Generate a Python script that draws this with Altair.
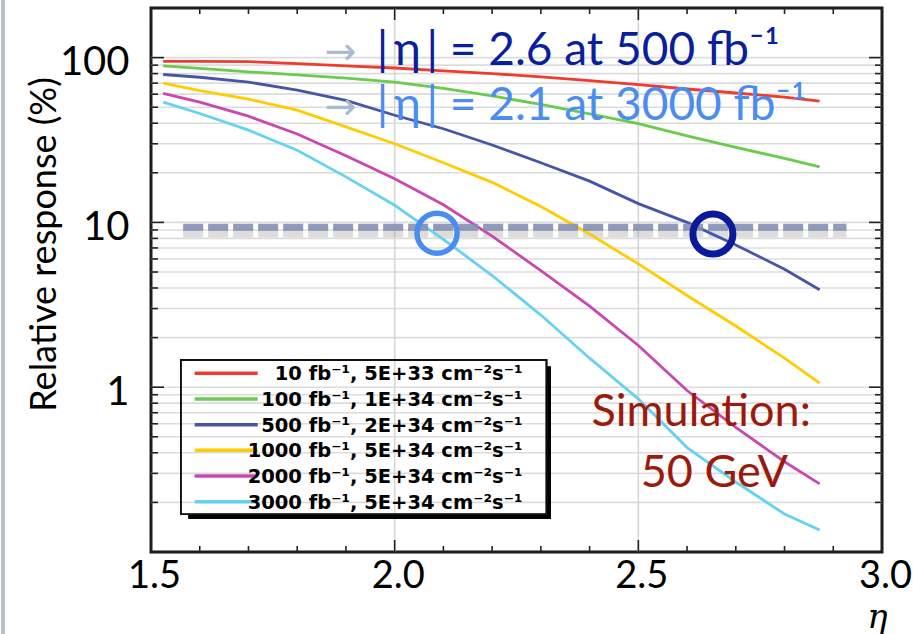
import altair as alt
import pandas as pd

# ---------------- data ----------------
eta = [1.525, 1.6, 1.7, 1.8, 1.9, 2.0, 2.1, 2.2, 2.3, 2.4, 2.5, 2.6, 2.7, 2.8, 2.872]
resp_10 = [95, 95, 94.5, 92, 89, 86.5, 83, 80, 76.5, 72.5, 68.5, 64.5, 61, 57.5, 54.5]
resp_100 = [89, 86, 82, 78.5, 75, 71, 65, 58.5, 52, 45.5, 39.7, 33.5, 28.5, 24.5, 21.7]
resp_500 = [79, 76, 71, 63.5, 55, 44.7, 37, 29.5, 23, 17.8, 13, 10, 7.3, 5.2, 3.9]
resp_1000 = [70, 63, 56, 48, 38, 30, 23, 17.5, 12.5, 8.5, 5.6, 3.6, 2.35, 1.5, 1.06]
resp_2000 = [60.7, 53.7, 44.1, 34.4, 25.4, 18.4, 12.8, 8.25, 5.1, 3.1, 1.79, 0.955, 0.57, 0.353, 0.259]
resp_3000 = [53.7, 45.8, 36.3, 27.4, 18.9, 12.7, 7.9, 4.76, 2.74, 1.5, 0.85, 0.43, 0.266, 0.17, 0.136]

series_labels = [
    "10 fb⁻¹, 5E+33 cm⁻²s⁻¹",
    "100 fb⁻¹, 1E+34 cm⁻²s⁻¹",
    "500 fb⁻¹, 2E+34 cm⁻²s⁻¹",
    "1000 fb⁻¹, 5E+34 cm⁻²s⁻¹",
    "2000 fb⁻¹, 5E+34 cm⁻²s⁻¹",
    "3000 fb⁻¹, 5E+34 cm⁻²s⁻¹",
]
series_colors = ["#f03c2e", "#6acb4e", "#4655a8", "#ffcc00", "#c948b0", "#66d2f2"]

x_major = [1.5, 2.0, 2.5, 3.0]
x_minor = [1.6, 1.7, 1.8, 1.9, 2.1, 2.2, 2.3, 2.4, 2.6, 2.7, 2.8, 2.9]
x_grid = [2.0, 2.5]
y_major = [1, 10, 100]
y_minor = [0.2, 0.3, 0.4, 0.5, 0.6, 0.7, 0.8, 0.9,
           2, 3, 4, 5, 6, 7, 8, 9,
           20, 30, 40, 50, 60, 70, 80, 90]
y_grid = y_minor + y_major

threshold_eta = [1.566, 2.927]
threshold_value = 9.36
circle_eta = [2.087, 2.653]
circle_value = [8.6, 8.5]

ann_lines = ["|\u2009η\u2009| = 2.6 at 500 fb⁻¹", "|\u2009η\u2009| = 2.1 at 3000 fb⁻¹"]
ann_eta = [1.963, 1.963]
ann_value = [89.8, 41.6]
arrow_eta = [1.856, 1.856]

sim_lines = ["Simulation:", "50 GeV"]
sim_eta = [2.404, 2.505]
sim_value = [0.585, 0.247]

# ---------------- tables ----------------
all_series = [resp_10, resp_100, resp_500, resp_1000, resp_2000, resp_3000]
rows = []
for lab, vals in zip(series_labels, all_series):
    for e, v in zip(eta, vals):
        rows.append({"eta": e, "resp": v, "series": lab})
df = pd.DataFrame(rows)

W, H = 731, 544
FONT = "Lato, DejaVu Sans"

xs = alt.Scale(domain=[1.5, 3.0], nice=False, zero=False)
ys = alt.Scale(type="log", domain=[0.1, 200], nice=False)
cs = alt.Scale(domain=series_labels, range=series_colors)

x_axis = alt.Axis(
    values=x_major, format=".1f", grid=False, ticks=False, domain=False,
    labelFont=FONT, labelFontSize=38, labelColor="black", labelPadding=5,
    labelFlush=False, labelOffset=3,
    title="η", titleFont="DejaVu Serif", titleFontStyle="italic",
    titleFontWeight="normal", titleFontSize=34, titleColor="black",
    titleX=W + 5, titleY=75, titleAlign="right", titleBaseline="alphabetic")


def X(field):
    return alt.X(field, scale=xs, axis=x_axis, title="η")


def Y(field):
    return alt.Y(field, scale=ys, axis=None)


# grid
hgrid = alt.Chart(pd.DataFrame({"resp": y_grid})).mark_rule(
    color="#dcdcdc", strokeWidth=1.6
).encode(y=Y("resp:Q"), x=alt.value(0), x2=alt.value(W))
vgrid = alt.Chart(pd.DataFrame({"eta": x_grid})).mark_rule(
    color="#d6d6d6", strokeWidth=1.6
).encode(x=X("eta:Q"), y=alt.value(0), y2=alt.value(H))

# threshold
thr_df = pd.DataFrame({"eta": [threshold_eta[0]], "eta2": [threshold_eta[1]], "resp": [threshold_value]})
thr_shadow = alt.Chart(thr_df).mark_rule(
    color="#666666", opacity=0.22, strokeWidth=10, strokeDash=[20, 5], yOffset=5
).encode(x=X("eta:Q"), x2="eta2:Q", y=Y("resp:Q"))
thr = alt.Chart(thr_df).mark_rule(
    color="#8590b4", opacity=0.9, strokeWidth=7, strokeDash=[20, 5]
).encode(x=X("eta:Q"), x2="eta2:Q", y=Y("resp:Q"))

# curves with y axis
curves = alt.Chart(df).mark_line(strokeWidth=2.8).encode(
    x=X("eta:Q"),
    y=alt.Y("resp:Q", scale=ys, axis=alt.Axis(
        values=y_major, labelExpr="datum.value + ''", grid=False, ticks=False,
        domain=False, labelFont=FONT, labelFontSize=40, labelColor="black",
        labelPadding=22, labelOffset=5, labelOverlap=False,
        title="Relative response (%)", titleFont=FONT, titleFontSize=36,
        titleFontWeight="normal", titleColor="black", titleX=-88, titleY=236,
        titleAlign="center", titleBaseline="bottom", titleAngle=-90)),
    color=alt.Color("series:N", scale=cs, legend=None),
)

# circles
circ_df = pd.DataFrame({"eta": circle_eta, "resp": circle_value, "k": ["a", "b"]})
circ_light = alt.Chart(circ_df).transform_filter("datum.k == 'a'").mark_point(
    shape="circle", filled=False, size=1600, strokeWidth=5.5, color="#4a8cf0", opacity=1
).encode(x=X("eta:Q"), y=Y("resp:Q"))
circ_dark = alt.Chart(circ_df).transform_filter("datum.k == 'b'").mark_point(
    shape="circle", filled=False, size=1600, strokeWidth=7, color="#0a1a9a", opacity=1
).encode(x=X("eta:Q"), y=Y("resp:Q"))


# inward ticks
def yticks(vals, length):
    base = alt.Chart(pd.DataFrame({"resp": vals}))
    left = base.mark_rule(color="#222", strokeWidth=1.6).encode(
        y=Y("resp:Q"), x=alt.value(0), x2=alt.value(length))
    right = base.mark_rule(color="#222", strokeWidth=1.6).encode(
        y=Y("resp:Q"), x=alt.value(W - length), x2=alt.value(W))
    return [left, right]


def xticks(vals, length):
    base = alt.Chart(pd.DataFrame({"eta": vals}))
    bottom = base.mark_rule(color="#222", strokeWidth=1.6).encode(
        x=X("eta:Q"), y=alt.value(H - length), y2=alt.value(H))
    top = base.mark_rule(color="#222", strokeWidth=1.6).encode(
        x=X("eta:Q"), y=alt.value(0), y2=alt.value(length))
    return [bottom, top]


tick_layers = yticks(y_major, 13) + yticks(y_minor, 7) + xticks(x_major, 12) + xticks(x_minor, 6)

# annotations
ann_df = pd.DataFrame({"eta": ann_eta, "resp": ann_value, "text": ann_lines,
                       "aeta": arrow_eta, "k": ["a", "b"]})
arrows = alt.Chart(ann_df).mark_text(
    text="→", align="left", baseline="alphabetic", font="DejaVu Sans",
    fontSize=38, color="#a9bccf", dy=-1
).encode(x=X("aeta:Q"), y=Y("resp:Q"))
ann1 = alt.Chart(ann_df).transform_filter("datum.k == 'a'").mark_text(
    align="left", baseline="alphabetic", font=FONT, fontSize=46, color="#0a1f9c"
).encode(x=X("eta:Q"), y=Y("resp:Q"), text="text:N")
ann2 = alt.Chart(ann_df).transform_filter("datum.k == 'b'").mark_text(
    align="left", baseline="alphabetic", font=FONT, fontSize=46, color="#4a8cf4"
).encode(x=X("eta:Q"), y=Y("resp:Q"), text="text:N")

sim_df = pd.DataFrame({"eta": sim_eta, "resp": sim_value, "text": sim_lines})
sim = alt.Chart(sim_df).mark_text(
    align="left", baseline="alphabetic", font=FONT, fontSize=45, color="#9b1a0c"
).encode(x=X("eta:Q"), y=Y("resp:Q"), text="text:N")

# legend (drawn box with shadow)
leg_df = pd.DataFrame({"label": series_labels})
leg_scale = alt.Scale(type="point", domain=series_labels, range=[365.3, 493.7], padding=0)
shadow_b = alt.Chart(leg_df).mark_rect(color="black").encode(
    x=alt.value(37.7), x2=alt.value(399.7), y=alt.value(506.3), y2=alt.value(510.5))
shadow_r = alt.Chart(leg_df).mark_rect(color="black").encode(
    x=alt.value(395.5), x2=alt.value(399.7), y=alt.value(358.7), y2=alt.value(510.5))
box = alt.Chart(leg_df).mark_rect(fill="white", fillOpacity=0, stroke="#111", strokeWidth=1.3).encode(
    x=alt.value(29.7), x2=alt.value(395.5), y=alt.value(352), y2=alt.value(506.3))
leg_lines = alt.Chart(leg_df).mark_rule(strokeWidth=3.5).encode(
    x=alt.value(43.7), x2=alt.value(106.7),
    y=alt.Y("label:N", scale=leg_scale, axis=None),
    color=alt.Color("label:N", scale=cs, legend=None))
leg_text = alt.Chart(leg_df).mark_text(
    align="right", baseline="middle", font="DejaVu Sans", fontWeight="bold",
    fontSize=19.5, color="black", dy=1
).encode(x=alt.value(371.5), y=alt.Y("label:N", scale=leg_scale, axis=None), text="label:N")

# slide edge bar
edge = alt.Chart(leg_df).mark_rule(color="#b7bfcd", strokeWidth=3).encode(
    x=alt.value(-148), y=alt.value(-8), y2=alt.value(H + 82))

chart = alt.layer(
    hgrid, vgrid, thr_shadow, curves, thr, circ_light, circ_dark,
    *tick_layers, arrows, ann1, ann2, sim,
    shadow_b, shadow_r, box, leg_lines, leg_text, edge,
).resolve_scale(y="independent").properties(
    width=W, height=H,
    autosize=alt.AutoSizeParams(type="none"),
    padding={"left": 151, "top": 8, "right": 31, "bottom": 82},
    background="white",
).configure_view(stroke="#1c1c1c", strokeWidth=3)

chart.save("out.html", embed_options={"renderer": "svg", "actions": False})
